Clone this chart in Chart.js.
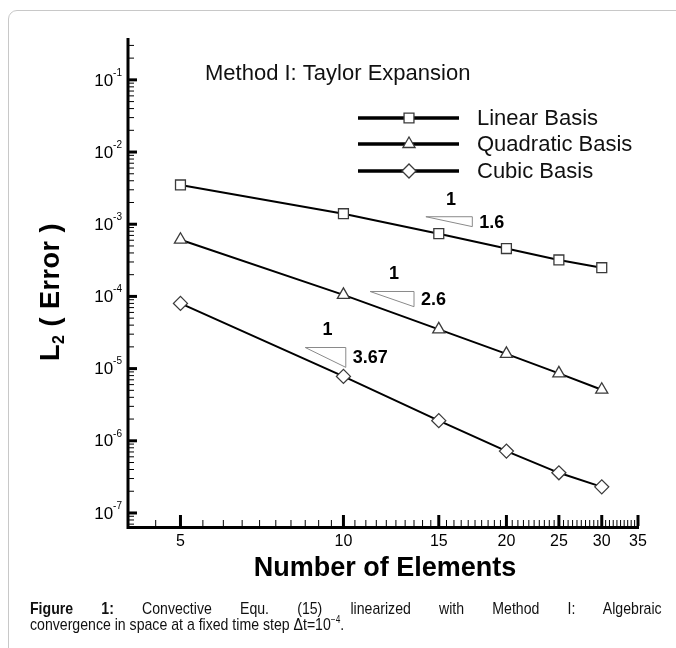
<!DOCTYPE html>
<html>
<head>
<meta charset="utf-8">
<script src="https://cdn.jsdelivr.net/npm/chart.js@4.4.1/dist/chart.umd.min.js"></script>
<style>
    html, body { margin: 0; padding: 0; background: #fff; }
    body { width: 676px; height: 648px; position: relative; overflow: hidden; }
    .frame {
        position: absolute; left: 8px; top: 10px; width: 720px; height: 720px;
        border: 1.5px solid #c8c8c8; border-radius: 9px;
    }
    #plot { position: absolute; left: 0; top: 0; }
    .caption {
        position: absolute; left: 30px; color: #111;
        font-family: "Liberation Sans Narrow", "Arial Narrow", "Liberation Sans", Arial, sans-serif;
        font-size: 17px; line-height: 16px; white-space: nowrap;
        transform: scaleX(0.83); transform-origin: left top;
    }
    .line1 { top: 601px; width: 761px; text-align: justify; text-align-last: justify; white-space: normal; }
    .line2 { top: 617px; }
</style>
</head>
<body>
<div class="frame"></div>
<canvas id="plot" width="676" height="648"></canvas>
<div class="caption line1"><b>Figure 1:</b> Convective Equ. (15) linearized with Method I: Algebraic</div>
<div class="caption line2">convergence in space at a fixed time step &Delta;t=10<sup style="font-size:10px;line-height:0">&minus;4</sup>.</div>

<script>
// number of elements and the L2 error of each basis
const elements = [5, 10, 15, 20, 25, 30];
const linearErr = [3.5e-3, 1.4e-3, 7.4e-4, 4.6e-4, 3.2e-4, 2.5e-4];
const quadraticErr = [6.1e-4, 1.05e-4, 3.5e-5, 1.6e-5, 8.6e-6, 5.1e-6];
const cubicErr = [8.0e-5, 7.8e-6, 1.9e-6, 7.2e-7, 3.6e-7, 2.3e-7];

const seriesNames = ["Linear Basis", "Quadratic Basis", "Cubic Basis"];
const xTickLabels = [5, 10, 15, 20, 25, 30, 35];
const yTickExponents = [-1, -2, -3, -4, -5, -6, -7];

// slope triangles: convergence rate, x span and top edge (data units)
const slopeRates = [1.6, 2.6, 3.67];
const slopeLabels = ["1.6", "2.6", "3.67"];
const slopeXFrom = [14.2, 11.2, 8.5];
const slopeXTo = [17.3, 13.5, 10.1];
const slopeTop = [1.27e-3, 1.17e-4, 1.96e-5];

const FONT = '"Liberation Sans", Arial, sans-serif';
const markerStyles = ["rect", "triangle", "rectRot"];

const toPoints = function (ys) {
    return elements.map(function (x, i) { return { x: x, y: ys[i] }; });
};

const makeSet = function (label, ys, style) {
    return {
        label: label,
        data: toPoints(ys),
        borderColor: "#000",
        borderWidth: 2,
        tension: 0,
        pointStyle: style,
        pointRadius: 7,
        pointBackgroundColor: "#fff",
        pointBorderColor: "#3a3a3a",
        pointBorderWidth: 1.3,
    };
};

// axes, ticks, labels, legend and slope triangles are painted by hand
const figurePainter = {
    id: "figurePainter",
    afterDatasetsDraw(chart) {
        const ctx = chart.ctx;
        const area = chart.chartArea;
        const xs = chart.scales.x;
        const ys = chart.scales.y;
        ctx.save();
        ctx.fillStyle = "#000";
        ctx.strokeStyle = "#000";

        // slope triangles
        ctx.lineWidth = 1;
        ctx.strokeStyle = "#8a8a8a";
        slopeRates.forEach(function (rate, i) {
            const x0 = xs.getPixelForValue(slopeXFrom[i]);
            const x1 = xs.getPixelForValue(slopeXTo[i]);
            const yBottomVal = slopeTop[i] * Math.pow(slopeXFrom[i] / slopeXTo[i], rate);
            const y0 = ys.getPixelForValue(slopeTop[i]);
            const y1 = ys.getPixelForValue(yBottomVal);
            ctx.beginPath();
            ctx.moveTo(x0, y0);
            ctx.lineTo(x1, y0);
            ctx.lineTo(x1, y1);
            ctx.closePath();
            ctx.stroke();
            ctx.font = "bold 18px " + FONT;
            ctx.textBaseline = "middle";
            ctx.textAlign = "center";
            ctx.fillText("1", (x0 + x1) / 2 + 2, y0 - 17);
            ctx.textAlign = "left";
            ctx.fillText(slopeLabels[i], x1 + 7, (y0 + y1) / 2 + 1);
        });
        ctx.strokeStyle = "#000";

        // y axis ticks
        for (let d = -8; d <= 0; d++) {
            for (let m = 1; m <= 9; m++) {
                const v = m * Math.pow(10, d);
                if (v < ys.min || v > ys.max) continue;
                const py = ys.getPixelForValue(v);
                ctx.beginPath();
                ctx.lineWidth = m === 1 ? 3 : 1;
                ctx.moveTo(area.left, py);
                ctx.lineTo(area.left + (m === 1 ? 9 : 6), py);
                ctx.stroke();
            }
        }

        // x axis ticks, every 0.5 with majors at labels
        for (let k = 8; k <= 70; k++) {
            const v = k / 2;
            if (v < xs.min || v > xs.max) continue;
            const px = xs.getPixelForValue(v);
            const major = xTickLabels.indexOf(v) >= 0;
            ctx.beginPath();
            ctx.lineWidth = major ? 3 : 1;
            ctx.moveTo(px, area.bottom);
            ctx.lineTo(px, area.bottom - (major ? 11 : 6));
            ctx.stroke();
        }

        // axis lines
        ctx.lineWidth = 3;
        ctx.beginPath();
        ctx.moveTo(area.left, area.top);
        ctx.lineTo(area.left, area.bottom + 1.5);
        ctx.lineTo(area.right + 1, area.bottom + 1.5);
        ctx.stroke();

        // x tick labels
        ctx.font = "16px " + FONT;
        ctx.textAlign = "center";
        ctx.textBaseline = "middle";
        xTickLabels.forEach(function (v) {
            ctx.fillText(String(v), xs.getPixelForValue(v), area.bottom + 16);
        });

        // y tick labels with superscript exponents
        yTickExponents.forEach(function (e) {
            const py = ys.getPixelForValue(Math.pow(10, e));
            const sup = String(e);
            ctx.font = "10px " + FONT;
            const supW = ctx.measureText(sup).width;
            ctx.font = "17px " + FONT;
            const baseW = ctx.measureText("10").width;
            const right = area.left - 6;
            ctx.textAlign = "left";
            ctx.textBaseline = "middle";
            ctx.fillText("10", right - supW - baseW, py + 1);
            ctx.font = "10px " + FONT;
            ctx.fillText(sup, right - supW, py - 7);
        });

        // axis titles
        ctx.font = "bold 27px " + FONT;
        ctx.textAlign = "center";
        ctx.textBaseline = "middle";
        ctx.fillText("Number of Elements", 385, 569);

        ctx.save();
        ctx.translate(52, 292);
        ctx.rotate(-Math.PI / 2);
        ctx.letterSpacing = "0.5px";
        ctx.font = "bold 27px " + FONT;
        const wL = ctx.measureText("L").width;
        const wRest = ctx.measureText(" ( Error )").width;
        ctx.font = "bold 16px " + FONT;
        const wSub = ctx.measureText("2").width;
        const tx = -(wL + wSub + wRest) / 2;
        ctx.textAlign = "left";
        ctx.font = "bold 27px " + FONT;
        ctx.fillText("L", tx, 0);
        ctx.font = "bold 16px " + FONT;
        ctx.fillText("2", tx + wL, 8);
        ctx.font = "bold 27px " + FONT;
        ctx.fillText(" ( Error )", tx + wL + wSub, 0);
        ctx.restore();

        // plot title
        ctx.font = "22px " + FONT;
        ctx.textAlign = "left";
        ctx.fillStyle = "#111";
        ctx.fillText("Method I: Taylor Expansion", 205, 74);

        // legend
        const rows = [118, 144, 171];
        seriesNames.forEach(function (name, i) {
            ctx.strokeStyle = "#000";
            ctx.lineWidth = 3.5;
            ctx.beginPath();
            ctx.moveTo(358, rows[i]);
            ctx.lineTo(459, rows[i]);
            ctx.stroke();
            ctx.fillStyle = "#fff";
            ctx.strokeStyle = "#3a3a3a";
            ctx.lineWidth = 1.3;
            Chart.helpers.drawPoint(ctx, { pointStyle: markerStyles[i], radius: 7, rotation: 0, borderWidth: 1.3 }, 409, rows[i]);
            ctx.fillStyle = "#111";
            ctx.font = "22px " + FONT;
            ctx.textBaseline = "middle";
            ctx.fillText(name, 477, rows[i] + 1);
        });

        ctx.restore();
    },
};

new Chart(document.getElementById("plot"), {
    type: "line",
    data: {
        datasets: [
            makeSet(seriesNames[0], linearErr, markerStyles[0]),
            makeSet(seriesNames[1], quadraticErr, markerStyles[1]),
            makeSet(seriesNames[2], cubicErr, markerStyles[2]),
        ],
    },
    options: {
        responsive: false,
        animation: false,
        devicePixelRatio: 1,
        layout: { padding: { left: 128, right: 38, top: 38, bottom: 122 } },
        plugins: { legend: { display: false }, tooltip: { enabled: false } },
        scales: {
            x: { type: "logarithmic", min: 4, max: 35, display: false },
            y: { type: "logarithmic", min: 6.6e-8, max: 0.38, display: false },
        },
    },
    plugins: [figurePainter],
});
</script>
</body>
</html>
